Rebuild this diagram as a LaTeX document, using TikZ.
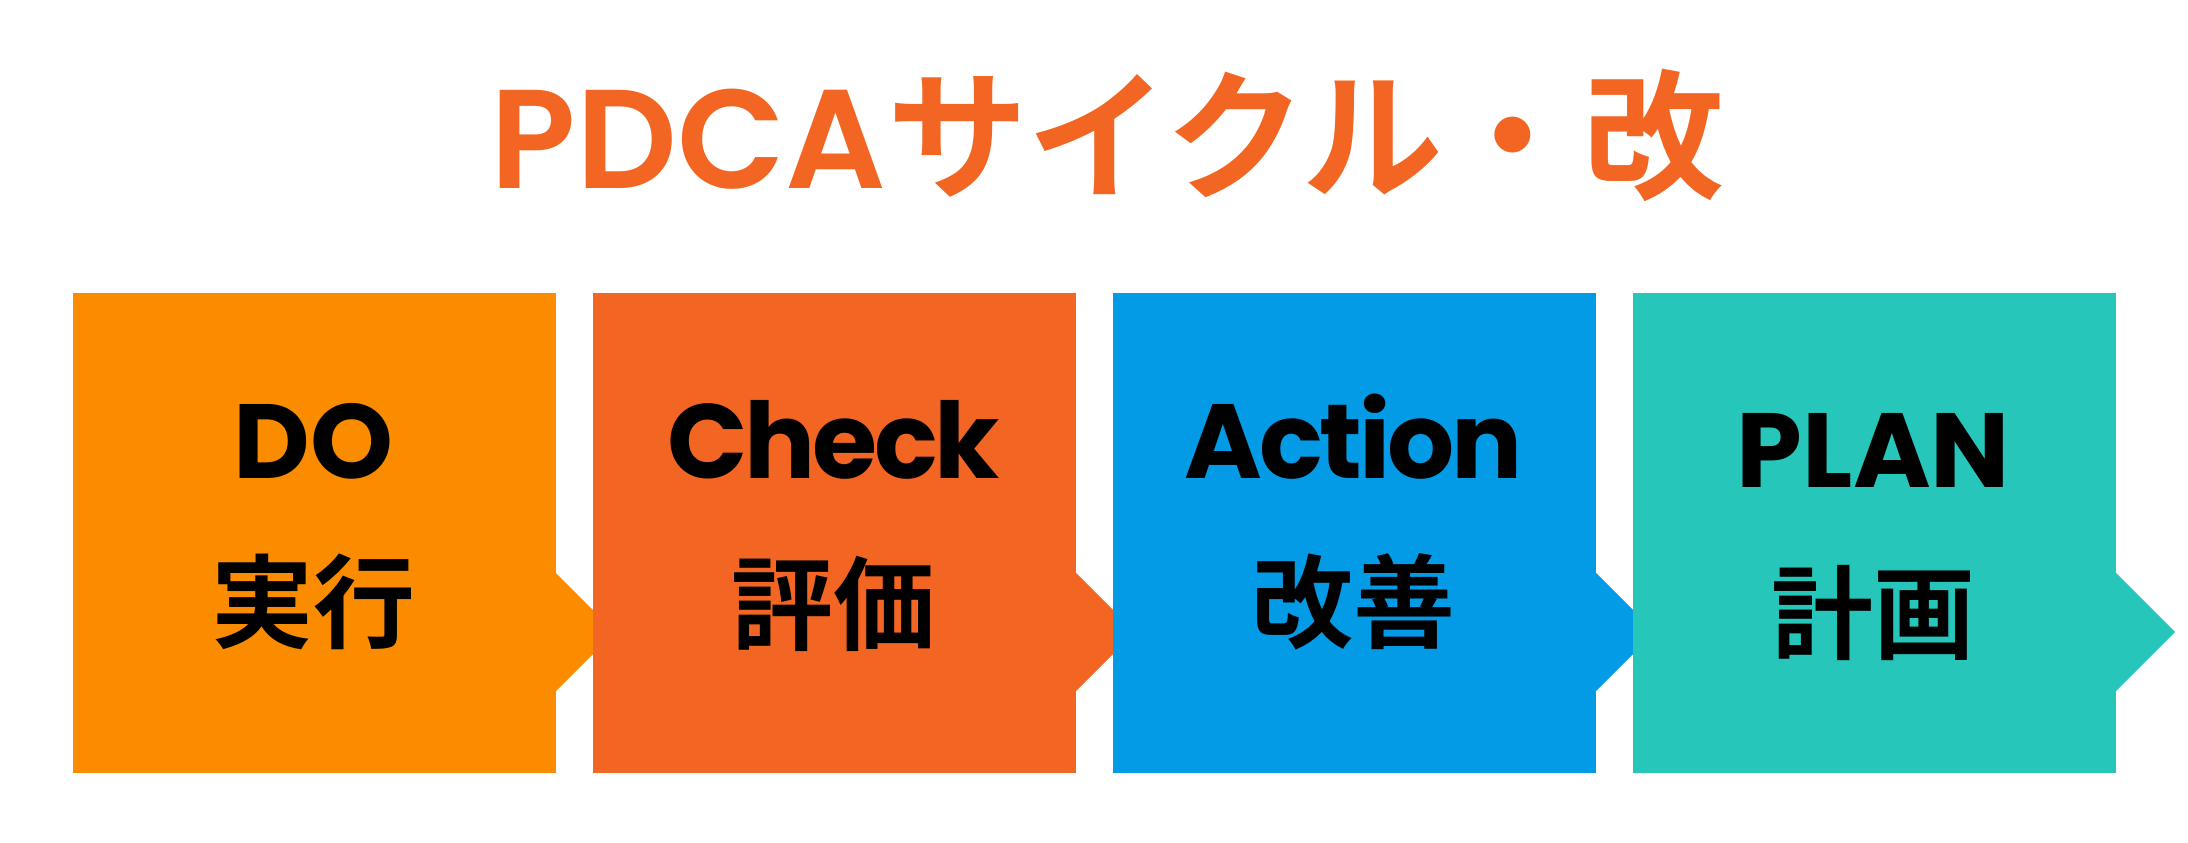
\documentclass[tikz,border=0pt]{standalone}
\usepackage{fontspec}
\setmainfont{Poppins}
\newfontfamily\jpbold{Noto Sans CJK JP Bold}
\newfontfamily\popsemi{Poppins SemiBold}
\newfontfamily\poptight{Poppins Bold}[LetterSpace=-3]
\usetikzlibrary{positioning}
\definecolor{cdo}{RGB}{251,140,0}
\definecolor{ccheck}{RGB}{242,101,34}
\definecolor{caction}{RGB}{3,155,229}
\definecolor{cplan}{RGB}{38,198,187}
\tikzset{
    box/.style = {rectangle, inner sep=0pt, anchor=north west, minimum width=4.83cm, minimum height=4.80cm},
    enlabel/.style = {anchor=base, inner sep=0pt, font=\bfseries\fontsize{30}{30}\selectfont},
    tightlabel/.style = {enlabel, font=\poptight\fontsize{30}{30}\selectfont},
    jplabel/.style = {anchor=center, inner sep=0pt, font=\jpbold\fontsize{29}{29}\selectfont},
    heading/.style = {anchor=base west, inner sep=0pt, text=ccheck}
}

\begin{document}
\begin{tikzpicture}[x=0.01cm,y=-0.01cm]
\useasboundingbox (0,0) rectangle (2188,842);
\node[heading, font=\popsemi\fontsize{40}{40}\selectfont] (titlelat) at (490,188) {PDCA};
\node[heading, font=\jpbold\fontsize{40}{40}\selectfont] (titlejp) at (titlelat.base east) {サイクル・改};
%
\node[box, fill=cdo] (do) at (72,292) {};
\fill[cdo] (555,572) -- (615,632) -- (555,692) -- cycle;
\node[box, fill=ccheck] (check) at (592,292) {};
\fill[ccheck] (1075,572) -- (1135,632) -- (1075,692) -- cycle;
\node[box, fill=caction] (action) at (1112,292) {};
\fill[caction] (1595,572) -- (1655,632) -- (1595,692) -- cycle;
\node[box, fill=cplan] (plan) at (1632,292) {};
\fill[cplan] (2115,572) -- (2175,632) -- (2115,692) -- cycle;
%
\node[enlabel] (doen) at (313.5,478) {DO};
\node[jplabel] (dojp) at (313.5,602) {実行};
\node[tightlabel] (checken) at (833.5,478) {Check};
\node[jplabel] (checkjp) at (833.5,604) {評価};
\node[tightlabel] (actionen) at (1353.5,478) {Action};
\node[jplabel] (actionjp) at (1353.5,602) {改善};
\node[enlabel] (planen) at (1873.5,487) {PLAN};
\node[jplabel] (planjp) at (1873.5,613) {計画};
\end{tikzpicture}
\end{document}
